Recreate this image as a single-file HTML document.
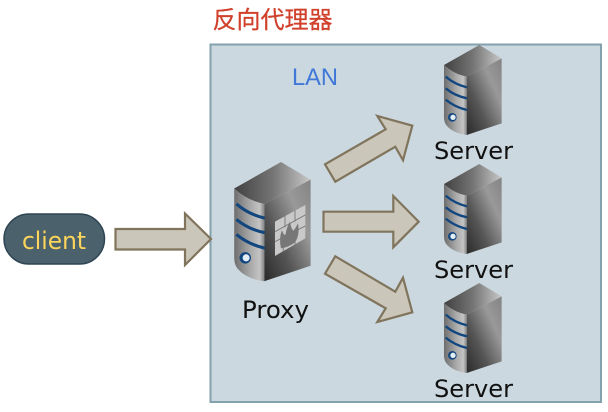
<!DOCTYPE html>
<html>
<head>
<meta charset="utf-8">
<style>
html,body{margin:0;padding:0;background:#fff;width:608px;height:412px;overflow:hidden}
svg{display:block}
</style>
</head>
<body>
<svg width="608" height="412" viewBox="0 0 608 412" xmlns="http://www.w3.org/2000/svg">
<defs>
<linearGradient id="top" x1="0" y1="0" x2="1" y2="0"><stop offset="0" stop-color="#414141"/><stop offset=".5" stop-color="#747474"/><stop offset="1" stop-color="#c8c8c8"/></linearGradient>
<linearGradient id="right" x1="0" y1="1" x2="1" y2="0"><stop offset="0" stop-color="#2a2a2a"/><stop offset=".35" stop-color="#555"/><stop offset=".7" stop-color="#999"/><stop offset="1" stop-color="#848484"/></linearGradient>
<linearGradient id="front" x1="0" y1="0" x2="1" y2="0"><stop offset="0" stop-color="#6e6e6e"/><stop offset=".5" stop-color="#a5a5a5"/><stop offset=".85" stop-color="#c4c4c4"/><stop offset="1" stop-color="#858585"/></linearGradient>
<g id="srv">
<path d="M72 105L178 45L245 85L140 140Q100 132 72 105Z" fill="url(#top)"/>
<path d="M140 140L245 85V280L140 315Z" fill="url(#right)"/>
<path d="M72 105Q100 132 140 140V315Q100 310 80 287Q72 277 72 262Z" fill="url(#front)"/>
<path d="M77 140Q105 164 141 172M77 175Q105 198 141 205M77 209Q105 232 141 240" fill="none" stroke="#12467f" stroke-width="7"/>
<circle cx="97" cy="262" r="13" fill="#12467f"/>
<circle cx="99" cy="262" r="8" fill="#e4eef5"/>
</g>
</defs>

<rect x="210.5" y="44.5" width="390.5" height="357.5" fill="#cbd8df" stroke="#83a2ad" stroke-width="2"/>

<text x="212.5" y="28" font-family="'Liberation Sans','Noto Sans CJK SC',sans-serif" font-size="24" fill="#d0402b" stroke="#d0402b" stroke-width=".25">反向代理器</text>
<text x="292" y="85" font-family="'Liberation Sans',sans-serif" font-size="24" fill="#3f78d8" textLength="46" lengthAdjust="spacingAndGlyphs">LAN</text>

<rect x="4" y="214" width="100.5" height="50" rx="25" ry="25" fill="#4b616b" stroke="#2f4554" stroke-width="1.5"/>
<text x="22" y="249" font-family="'DejaVu Sans',sans-serif" font-size="24" fill="#fdd55a" textLength="64" lengthAdjust="spacingAndGlyphs">client</text>

<g fill="#cbc6ba" stroke="#80745c" stroke-width="2.2" stroke-linejoin="miter">
<polygon points="115.5,229 185,229 185,213.5 211,239 185,265 185,249.5 115.5,249.5"/>
<polygon points="325,164.3 385.7,129.3 377.3,116 412.3,125.7 403,160.3 395.3,146.7 335.3,181.7"/>
<polygon points="323.5,211.7 393.3,211.7 393.3,196 418.7,221.7 393.3,247.3 393.3,231.7 323.5,231.7"/>
<polygon points="335.3,256.3 395.3,291.7 403,277.7 412.3,312.3 377.3,322 385.7,308.3 325,273.7"/>
</g>

<use href="#srv" transform="translate(420,30) scale(.3333)"/>
<use href="#srv" transform="translate(420,149) scale(.3333)"/>
<use href="#srv" transform="translate(420,268) scale(.3333)"/>
<use href="#srv" transform="translate(202.4,142.1) scale(.4417)"/>

<g transform="translate(200,140) scale(.3333)">
<polygon points="225,245 316,195 316,295 225,348" fill="#c9c9c9"/>
<path d="M225 275L316 225M225 305L316 258M255 228V262M285 212V245M250 290V335M285 270V315" stroke="#7d7d7d" stroke-width="3" fill="none"/>
<path d="M243 325Q236 295 246 270Q250 285 256 285Q260 262 270 245Q274 270 281 272Q288 262 294 250Q300 285 285 307Q265 322 243 325Z" fill="#777"/>
</g>

<g font-family="'DejaVu Sans',sans-serif" font-size="24" fill="#111">
<text x="434" y="159" textLength="79" lengthAdjust="spacingAndGlyphs">Server</text>
<text x="434" y="278" textLength="79" lengthAdjust="spacingAndGlyphs">Server</text>
<text x="434" y="397" textLength="79" lengthAdjust="spacingAndGlyphs">Server</text>
<text x="242" y="318" textLength="67" lengthAdjust="spacingAndGlyphs">Proxy</text>
</g>
</svg>
</body>
</html>
